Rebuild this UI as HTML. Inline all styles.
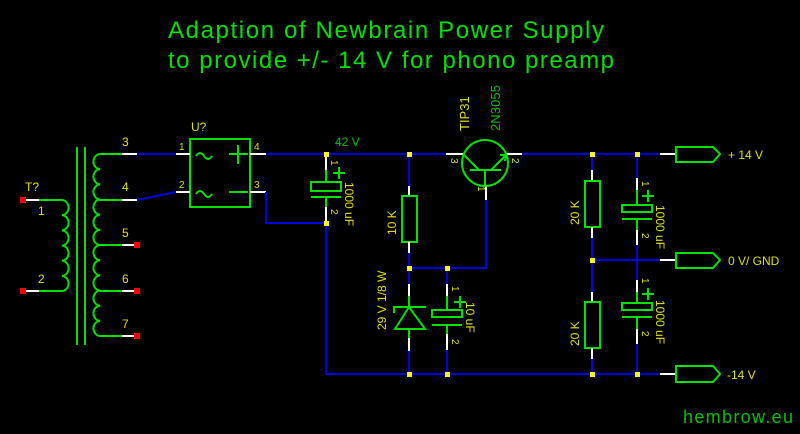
<!DOCTYPE html>
<html><head><meta charset="utf-8"><style>
html,body{margin:0;padding:0;background:#000;}
svg{display:block;}
text{font-family:"Liberation Sans",sans-serif;}
</style></head><body>
<svg width="800" height="434" viewBox="0 0 800 434" xmlns="http://www.w3.org/2000/svg">
<rect width="800" height="434" fill="#000"/>
<text x="168" y="38" font-size="24" fill="#00e000" textLength="436">Adaption of Newbrain Power Supply</text>
<text x="168" y="68" font-size="24" fill="#00e000" textLength="446">to provide +/- 14 V for phono preamp</text>

<g fill="none" stroke-width="2">
<g stroke="#00e000">
<line x1="77" y1="147" x2="77" y2="345"/><line x1="85" y1="147" x2="85" y2="345"/>
<path d="M39,200 H62 a7,7.6 0 0 1 0,15.17 a7,7.6 0 0 1 0,15.17 a7,7.6 0 0 1 0,15.17 a7,7.6 0 0 1 0,15.17 a7,7.6 0 0 1 0,15.17 a7,7.6 0 0 1 0,15.17 H39"/>
<path d="M122,154 H100 a7,7.6 0 0 0 0,15.17 a7,7.6 0 0 0 0,15.17 a7,7.6 0 0 0 0,15.17 a7,7.6 0 0 0 0,15.17 a7,7.6 0 0 0 0,15.17 a7,7.6 0 0 0 0,15.17 a7,7.6 0 0 0 0,15.17 a7,7.6 0 0 0 0,15.17 a7,7.6 0 0 0 0,15.17 a7,7.6 0 0 0 0,15.17 a7,7.6 0 0 0 0,15.17 a7,7.6 0 0 0 0,15.17 H122"/>
<line x1="100" y1="200" x2="122" y2="200"/><line x1="100" y1="245" x2="122" y2="245"/><line x1="100" y1="291" x2="122" y2="291"/>
<rect x="190" y="139" width="60" height="68"/>
<path d="M196,156 q4,-6 8,0 t8,0"/><path d="M196,194 q4,-6 8,0 t8,0"/>
<line x1="238" y1="145" x2="238" y2="164"/><line x1="229" y1="154" x2="248" y2="154"/><line x1="229" y1="192" x2="248" y2="192"/>
</g>
<g stroke="#fff">
<line x1="25" y1="200" x2="39" y2="200"/><line x1="25" y1="291" x2="39" y2="291"/>
<line x1="122" y1="154" x2="137" y2="154"/><line x1="122" y1="200" x2="137" y2="200"/><line x1="122" y1="245" x2="137" y2="245"/><line x1="122" y1="291" x2="137" y2="291"/><line x1="122" y1="336" x2="137" y2="336"/>
<line x1="176" y1="154" x2="190" y2="154"/><line x1="176" y1="192" x2="190" y2="192"/>
<line x1="250" y1="154" x2="266" y2="154"/><line x1="250" y1="192" x2="266" y2="192"/>
<line x1="446" y1="154" x2="463" y2="154"/><line x1="506" y1="154" x2="522" y2="154"/>
<line x1="486" y1="186" x2="486" y2="200"/>
<line x1="660" y1="154" x2="676" y2="154"/><line x1="660" y1="260" x2="676" y2="260"/><line x1="660" y1="374" x2="676" y2="374"/>
</g>
<g stroke="#0000e0">
<line x1="137" y1="154" x2="176" y2="154"/><line x1="137" y1="200" x2="176" y2="192"/>
<line x1="266" y1="154" x2="446" y2="154"/><line x1="522" y1="154" x2="660" y2="154"/>
<path d="M266,192 V223 H326 V374 H660"/>
<path d="M409,268 H486 V200"/>
<line x1="592" y1="260" x2="660" y2="260"/>
</g>
</g>
<g fill="#ff0000">
<rect x="20" y="197" width="6" height="6"/><rect x="20" y="288" width="6" height="6"/>
<rect x="134" y="242" width="6" height="6"/><rect x="134" y="288" width="6" height="6"/><rect x="134" y="333" width="6" height="6"/>
</g>

<g fill="none" stroke-width="2">
<line x1="326" y1="154" x2="326" y2="170" stroke="#fff"/><line x1="326" y1="170" x2="326" y2="182" stroke="#00e000"/>
<rect x="311" y="182" width="30" height="9" stroke="#00e000"/>
<line x1="311" y1="197" x2="341" y2="197" stroke="#00e000"/><line x1="326" y1="197" x2="326" y2="207" stroke="#00e000"/>
<line x1="326" y1="207" x2="326" y2="223" stroke="#fff"/>
<line x1="333" y1="173" x2="345" y2="173" stroke="#00e000"/><line x1="339" y1="167" x2="339" y2="179" stroke="#00e000"/>
<line x1="409" y1="154" x2="409" y2="186" stroke="#0000e0"/><line x1="409" y1="186" x2="409" y2="196" stroke="#fff"/>
<rect x="402" y="196" width="15" height="46" stroke="#00e000"/>
<line x1="409" y1="242" x2="409" y2="253" stroke="#fff"/><line x1="409" y1="253" x2="409" y2="284" stroke="#0000e0"/>
<line x1="409" y1="284" x2="409" y2="296" stroke="#fff"/><line x1="409" y1="296" x2="409" y2="307" stroke="#00e000"/>
<path d="M394,313 V307 H426" stroke="#00e000"/><path d="M409,307 L395,329 H425 Z" stroke="#00e000"/>
<line x1="409" y1="329" x2="409" y2="338" stroke="#00e000"/><line x1="409" y1="338" x2="409" y2="351" stroke="#fff"/><line x1="409" y1="351" x2="409" y2="374" stroke="#0000e0"/>
<line x1="447" y1="268" x2="447" y2="284" stroke="#0000e0"/><line x1="447" y1="284" x2="447" y2="296" stroke="#fff"/><line x1="447" y1="296" x2="447" y2="310" stroke="#00e000"/>
<rect x="432" y="310" width="30" height="7" stroke="#00e000"/><line x1="432" y1="325" x2="462" y2="325" stroke="#00e000"/>
<line x1="447" y1="325" x2="447" y2="334" stroke="#00e000"/><line x1="447" y1="334" x2="447" y2="350" stroke="#fff"/><line x1="447" y1="350" x2="447" y2="374" stroke="#0000e0"/>
<line x1="454" y1="302" x2="466" y2="302" stroke="#00e000"/><line x1="460" y1="296" x2="460" y2="308" stroke="#00e000"/>
<circle cx="485" cy="163" r="23" stroke="#00e000"/>
<line x1="470" y1="170" x2="501" y2="170" stroke="#00e000"/><line x1="485" y1="170" x2="485" y2="186" stroke="#00e000"/>
<line x1="463" y1="154" x2="479" y2="170" stroke="#00e000"/><line x1="491" y1="170" x2="506" y2="155" stroke="#00e000"/>
<path d="M500,155 L506,155 L505,161" stroke="#00e000"/>
<line x1="592" y1="154" x2="592" y2="170" stroke="#0000e0"/><line x1="592" y1="170" x2="592" y2="181" stroke="#fff"/>
<rect x="585" y="181" width="15" height="46" stroke="#00e000"/>
<line x1="592" y1="227" x2="592" y2="238" stroke="#fff"/><line x1="592" y1="238" x2="592" y2="292" stroke="#0000e0"/>
<line x1="592" y1="292" x2="592" y2="302" stroke="#fff"/>
<rect x="585" y="302" width="15" height="46" stroke="#00e000"/>
<line x1="592" y1="348" x2="592" y2="359" stroke="#fff"/><line x1="592" y1="359" x2="592" y2="374" stroke="#0000e0"/>
<line x1="637" y1="154" x2="637" y2="178" stroke="#0000e0"/><line x1="637" y1="178" x2="637" y2="190" stroke="#fff"/><line x1="637" y1="190" x2="637" y2="205" stroke="#00e000"/>
<rect x="622" y="205" width="30" height="7" stroke="#00e000"/><line x1="622" y1="219" x2="652" y2="219" stroke="#00e000"/>
<line x1="637" y1="219" x2="637" y2="230" stroke="#00e000"/><line x1="637" y1="230" x2="637" y2="245" stroke="#fff"/><line x1="637" y1="245" x2="637" y2="280" stroke="#0000e0"/>
<line x1="637" y1="280" x2="637" y2="292" stroke="#fff"/><line x1="637" y1="292" x2="637" y2="303" stroke="#00e000"/>
<rect x="622" y="303" width="30" height="7" stroke="#00e000"/><line x1="622" y1="317" x2="652" y2="317" stroke="#00e000"/>
<line x1="637" y1="317" x2="637" y2="329" stroke="#00e000"/><line x1="637" y1="329" x2="637" y2="344" stroke="#fff"/><line x1="637" y1="344" x2="637" y2="374" stroke="#0000e0"/>
<line x1="642" y1="196" x2="654" y2="196" stroke="#00e000"/><line x1="648" y1="190" x2="648" y2="202" stroke="#00e000"/>
<line x1="642" y1="294" x2="654" y2="294" stroke="#00e000"/><line x1="648" y1="288" x2="648" y2="300" stroke="#00e000"/>
<path d="M676,147 H713 L720,154 L713,162 H676 Z" stroke="#00e000"/>
<path d="M676,253 H713 L720,260 L713,268 H676 Z" stroke="#00e000"/>
<path d="M676,366 H713 L720,374 L713,382 H676 Z" stroke="#00e000"/>
</g>
<g fill="#ffff00">
<rect x="324" y="152" width="5" height="5"/><rect x="324" y="221" width="5" height="5"/><rect x="407" y="152" width="5" height="5"/>
<rect x="407" y="266" width="5" height="5"/><rect x="445" y="266" width="5" height="5"/><rect x="407" y="372" width="5" height="5"/><rect x="445" y="372" width="5" height="5"/>
<rect x="590" y="152" width="5" height="5"/><rect x="635" y="152" width="5" height="5"/><rect x="590" y="258" width="5" height="5"/>
<rect x="590" y="372" width="5" height="5"/><rect x="635" y="372" width="5" height="5"/>
</g>

<g fill="#e0e000" font-size="12">
<text x="25" y="191">T?</text><text x="38" y="215">1</text><text x="38" y="283">2</text>
<text x="122" y="146">3</text><text x="122" y="191">4</text><text x="122" y="237">5</text><text x="122" y="283">6</text><text x="122" y="328">7</text>
<text x="191" y="131">U?</text>
<text x="179" y="150" font-size="10">1</text><text x="179" y="188" font-size="10">2</text>
<text x="254" y="150" font-size="10">4</text><text x="254" y="188" font-size="10">3</text>
<text x="728" y="159">+ 14 V</text><text x="728" y="265">0 V/ GND</text><text x="727" y="379">-14 V</text>
</g>
<g fill="#e0e000" font-size="10">
<text transform="translate(331,160) rotate(90)">1</text><text transform="translate(331,209) rotate(90)">2</text>
<text transform="translate(452,286) rotate(90)">1</text><text transform="translate(452,339) rotate(90)">2</text>
<text transform="translate(642,181) rotate(90)">1</text><text transform="translate(642,233) rotate(90)">2</text>
<text transform="translate(642,278) rotate(90)">1</text><text transform="translate(642,331) rotate(90)">2</text>
<text transform="translate(451,158) rotate(90)">3</text><text transform="translate(512,158) rotate(90)">2</text><text transform="translate(478,186) rotate(90)">1</text>
</g>
<g fill="#e0e000" font-size="12">
<text transform="translate(345,182) rotate(90)">1000 uF</text>
<text transform="translate(466,302) rotate(90)">10 uF</text>
<text transform="translate(656,205) rotate(90)">1000 uF</text>
<text transform="translate(656,300) rotate(90)">1000 uF</text>
<text transform="translate(396,235) rotate(-90)">10 K</text>
<text transform="translate(386,330) rotate(-90)">29 V 1/8 W</text>
<text transform="translate(579,225) rotate(-90)">20 K</text>
<text transform="translate(579,346) rotate(-90)">20 K</text>
<text transform="translate(469,131) rotate(-90)" font-size="13">TIP31</text>
</g>
<text transform="translate(500,131) rotate(-90)" font-size="13" fill="#00c000" textLength="46">2N3055</text>
<text x="335" y="146" font-size="12" fill="#00c000">42 V</text>
<text x="683" y="423" font-size="18" fill="#00c000" textLength="110">hembrow.eu</text>
</svg>
</body></html>
